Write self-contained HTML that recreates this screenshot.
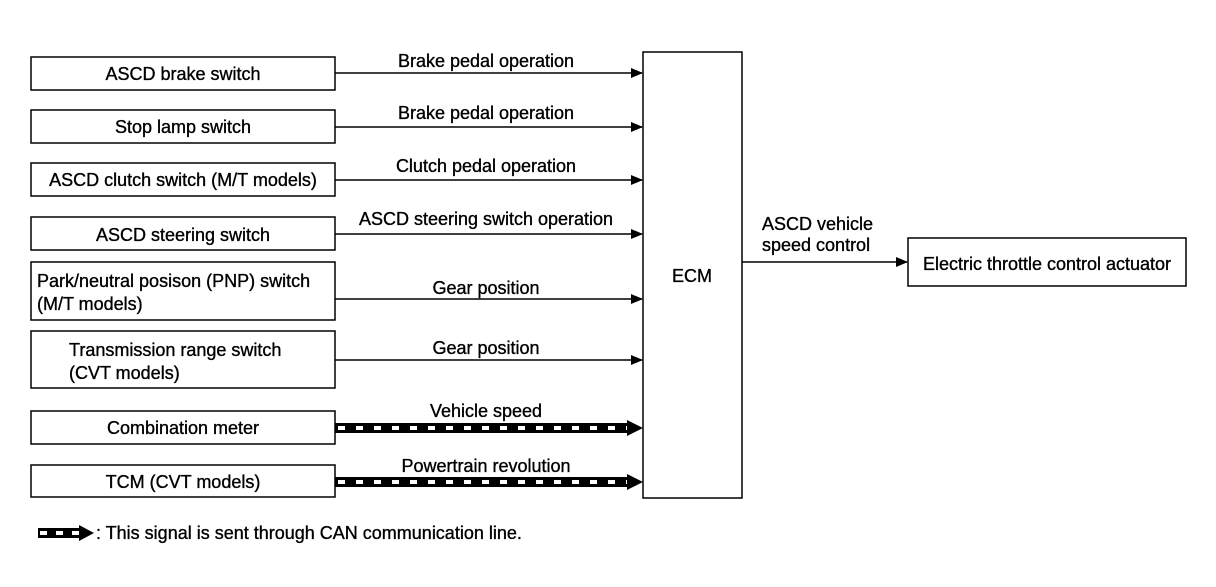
<!DOCTYPE html>
<html><head><style>
body{margin:0;background:#fff;}
svg text{font-family:"Liberation Sans",Arial,sans-serif;font-size:18px;fill:#000;stroke:#000;stroke-width:0.35;}
</style></head><body>
<svg width="1216" height="582" viewBox="0 0 1216 582" xmlns="http://www.w3.org/2000/svg">
<defs>
<marker id="ah" markerWidth="12" markerHeight="10" refX="11" refY="5" orient="auto" markerUnits="userSpaceOnUse">
<path d="M0,0 L12,5 L0,10 Z" fill="#000"/></marker>
</defs>
<g fill="#fff" stroke="#000" stroke-width="1.5">
<rect x="31" y="57" width="304" height="33"/>
<rect x="31" y="110" width="304" height="33"/>
<rect x="31" y="163" width="304" height="33"/>
<rect x="31" y="217" width="304" height="33"/>
<rect x="31" y="262" width="304" height="58"/>
<rect x="31" y="331" width="304" height="57"/>
<rect x="31" y="411" width="304" height="33"/>
<rect x="31" y="465" width="304" height="32"/>
<rect x="643" y="52" width="99" height="446"/>
<rect x="908" y="238" width="278" height="48"/>
</g>
<g text-anchor="middle">
<text x="183" y="80">ASCD brake switch</text>
<text x="183" y="133">Stop lamp switch</text>
<text x="183" y="186">ASCD clutch switch (M/T models)</text>
<text x="183" y="241">ASCD steering switch</text>
<text x="183" y="434">Combination meter</text>
<text x="183" y="488">TCM (CVT models)</text>
<text x="692" y="282">ECM</text>
<text x="1047" y="270">Electric throttle control actuator</text>
<text x="486" y="67">Brake pedal operation</text>
<text x="486" y="119">Brake pedal operation</text>
<text x="486" y="172">Clutch pedal operation</text>
<text x="486" y="225">ASCD steering switch operation</text>
<text x="486" y="294">Gear position</text>
<text x="486" y="354">Gear position</text>
<text x="486" y="417">Vehicle speed</text>
<text x="486" y="472">Powertrain revolution</text>
</g>
<text x="37" y="287">Park/neutral posison (PNP) switch</text>
<text x="37" y="310">(M/T models)</text>
<text x="69" y="356">Transmission range switch</text>
<text x="69" y="379">(CVT models)</text>
<text x="762" y="230">ASCD vehicle</text>
<text x="762" y="251">speed control</text>
<g stroke="#000" stroke-width="1.5" marker-end="url(#ah)">
<line x1="335" y1="73" x2="642" y2="73"/>
<line x1="335" y1="127" x2="642" y2="127"/>
<line x1="335" y1="180" x2="642" y2="180"/>
<line x1="335" y1="234" x2="642" y2="234"/>
<line x1="335" y1="299" x2="642" y2="299"/>
<line x1="335" y1="360" x2="642" y2="360"/>
<line x1="742" y1="262" x2="907" y2="262"/>
</g>
<g>
<rect x="335" y="423" width="296" height="10" fill="#000"/>
<line x1="338" y1="428" x2="628" y2="428" stroke="#fff" stroke-width="4" stroke-dasharray="7 11"/>
<path d="M627,420 L643,428 L627,436 Z" fill="#000"/>
<rect x="335" y="477" width="296" height="10" fill="#000"/>
<line x1="338" y1="482" x2="628" y2="482" stroke="#fff" stroke-width="4" stroke-dasharray="7 11"/>
<path d="M627,474 L643,482 L627,490 Z" fill="#000"/>
<rect x="38" y="528" width="44" height="10" fill="#000"/>
<line x1="40" y1="533" x2="80" y2="533" stroke="#fff" stroke-width="4" stroke-dasharray="7 9"/>
<path d="M79,525 L94,533 L79,541 Z" fill="#000"/>
</g>
<text x="96" y="539">: This signal is sent through CAN communication line.</text>
</svg>
</body></html>
